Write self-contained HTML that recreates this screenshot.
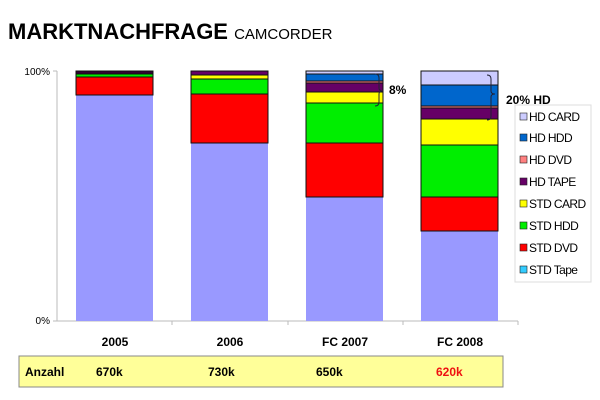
<!DOCTYPE html>
<html><head><meta charset="utf-8"><style>body{margin:0;background:#fff}svg{display:block}</style></head><body>
<svg width="600" height="400" xmlns="http://www.w3.org/2000/svg" font-family="Liberation Sans, Arial, sans-serif">
<text x="8" y="39" font-size="22" font-weight="bold">MARKTNACHFRAGE <tspan font-size="15" font-weight="normal">CAMCORDER</tspan></text>
<text x="50" y="75" font-size="10" text-anchor="end">100%</text>
<text x="50" y="324" font-size="10" text-anchor="end">0%</text>
<g stroke="#bbb" stroke-width="1">
<line x1="57" y1="71" x2="57" y2="321"/><line x1="53" y1="71" x2="57" y2="71"/><line x1="53" y1="321" x2="57" y2="321"/>
<line x1="57" y1="321" x2="518" y2="321"/>
<line x1="172" y1="321" x2="172" y2="325"/><line x1="288" y1="321" x2="288" y2="325"/><line x1="403" y1="321" x2="403" y2="325"/><line x1="518" y1="321" x2="518" y2="325"/>
</g>
<g stroke="#111" stroke-width="1">
<rect x="76" y="95" width="77" height="226" fill="#9999ff" stroke="none"/>
<rect x="76" y="77" width="77" height="18" fill="#ff0000"/>
<rect x="76" y="74" width="77" height="3" fill="#00ee00"/>
<rect x="76" y="71" width="77" height="3" fill="#330033"/>

<rect x="191" y="143" width="77" height="178" fill="#9999ff" stroke="none"/>
<rect x="191" y="94" width="77" height="49" fill="#ff0000"/>
<rect x="191" y="79" width="77" height="15" fill="#00ee00"/>
<rect x="191" y="75" width="77" height="4" fill="#ffff00"/>
<rect x="191" y="71" width="77" height="4" fill="#660066"/>

<rect x="306" y="197" width="77" height="124" fill="#9999ff" stroke="none"/>
<rect x="306" y="143" width="77" height="54" fill="#ff0000"/>
<rect x="306" y="103" width="77" height="40" fill="#00ee00"/>
<rect x="306" y="92" width="77" height="11" fill="#ffff00"/>
<rect x="306" y="83" width="77" height="9" fill="#660066"/>
<rect x="306" y="81" width="77" height="2" fill="#ff8080"/>
<rect x="306" y="74" width="77" height="7" fill="#0066cc"/>
<rect x="306" y="71" width="77" height="3" fill="#ccccff"/>

<rect x="421" y="231" width="77" height="90" fill="#9999ff" stroke="none"/>
<rect x="421" y="197" width="77" height="34" fill="#ff0000"/>
<rect x="421" y="145" width="77" height="52" fill="#00ee00"/>
<rect x="421" y="119" width="77" height="26" fill="#ffff00"/>
<rect x="421" y="108" width="77" height="11" fill="#660066"/>
<rect x="421" y="106" width="77" height="2" fill="#ff8080"/>
<rect x="421" y="85" width="77" height="21" fill="#0066cc"/>
<rect x="421" y="71" width="77" height="14" fill="#ccccff"/>
</g>
<path d="M375 74 q4 0 4 4 v10 q0 3 4 3 q-4 0 -4 3 v8 q0 4 -4 4" fill="none" stroke="#223" stroke-width="1"/>
<path d="M487 75 q4 0 4 4 v12 q0 3 4 3 q-4 0 -4 3 v19 q0 4 -4 4" fill="none" stroke="#223" stroke-width="1"/>
<text x="389" y="94" font-size="12" font-weight="bold">8%</text>
<text x="506" y="104" font-size="12" font-weight="bold">20% HD</text>
<rect x="515" y="105" width="76" height="177" fill="#fff" stroke="#ddd"/>
<g font-size="11" stroke="#222" stroke-width="0.6">
<rect x="520" y="113" width="7" height="7" fill="#ccccff"/><rect x="520" y="134" width="7" height="7" fill="#0066cc"/>
<rect x="520" y="156" width="7" height="7" fill="#ff8080"/><rect x="520" y="178" width="7" height="7" fill="#660066"/>
<rect x="520" y="200" width="7" height="7" fill="#ffff00"/><rect x="520" y="222" width="7" height="7" fill="#00ee00"/>
<rect x="520" y="244" width="7" height="7" fill="#ff0000"/><rect x="520" y="266" width="7" height="7" fill="#33ccff"/>
</g>
<g font-size="12" letter-spacing="-0.6">
<text x="529" y="121">HD CARD</text><text x="529" y="142">HD HDD</text><text x="529" y="164">HD DVD</text><text x="529" y="186">HD TAPE</text>
<text x="529" y="208">STD CARD</text><text x="529" y="230">STD HDD</text><text x="529" y="252">STD DVD</text><text x="529" y="274">STD Tape</text>
</g>
<g font-size="12" font-weight="bold" text-anchor="middle">
<text x="115" y="346">2005</text><text x="230" y="346">2006</text><text x="345" y="346">FC 2007</text><text x="460" y="346">FC 2008</text>
</g>
<rect x="19" y="356" width="484" height="31" fill="#ffff99" stroke="#888"/>
<g font-size="12" font-weight="bold">
<text x="25" y="376">Anzahl</text><text x="96" y="376">670k</text><text x="208" y="376">730k</text><text x="316" y="376">650k</text><text x="436" y="376" fill="#ee1111">620k</text>
</g>
</svg>
</body></html>
